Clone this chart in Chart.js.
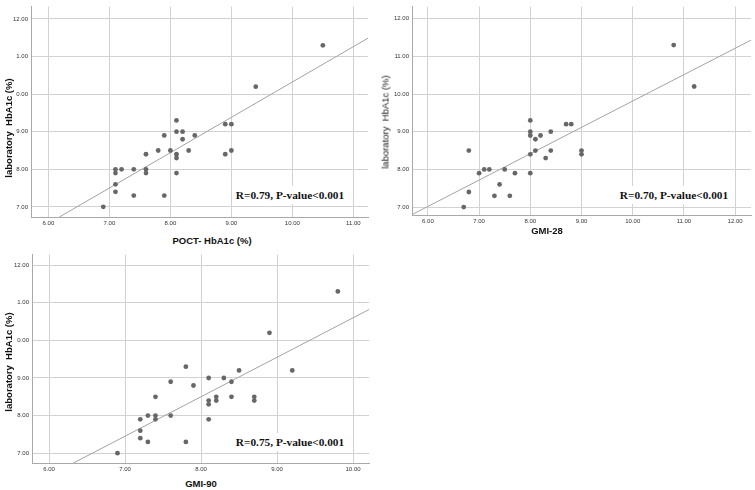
<!DOCTYPE html>
<html>
<head>
<meta charset="utf-8">
<script src="https://cdn.jsdelivr.net/npm/chart.js@4.4.0/dist/chart.umd.min.js"></script>
<style>
  html, body { margin: 0; padding: 0; background: #fff; }
  #wrap { position: relative; width: 755px; height: 490px; overflow: hidden; background: #fff; }
  canvas { position: absolute; }
  .lbl { position: absolute; white-space: nowrap; transform: translate(-50%, -50%); color: #111; font-family: "Liberation Sans", Arial, sans-serif; font-size: 9.5px; }
  .b { font-weight: bold; }
  .rot { transform: translate(-50%, -50%) rotate(-90deg); }
  .stat { font-family: "Liberation Serif", "Times New Roman", serif; font-weight: bold; font-size: 11.3px; background: #fff; padding: 3px 3px; color: #111; }
</style>
</head>
<body>
<div id="wrap">
  <canvas id="c1" width="372" height="229" style="left:0px;top:0px"></canvas>
  <canvas id="c2" width="375" height="227" style="left:380px;top:0px"></canvas>
  <canvas id="c3" width="373" height="227" style="left:0px;top:248px"></canvas>

  <div class="lbl b" style="left:212px;top:240px">POCT- HbA1c (%)</div>
  <div class="lbl b rot" style="left:8px;top:128px">laboratory&nbsp; HbA1c (%)</div>
  <div class="lbl stat" style="left:290px;top:195px">R=0.79, P-value&lt;0.001</div>

  <div class="lbl b" style="left:547px;top:230px">GMI-28</div>
  <div class="lbl rot" style="left:385px;top:122px">laboratory&nbsp; HbA1c (%)</div>
  <div class="lbl stat" style="left:674px;top:195px">R=0.70, P-value&lt;0.001</div>

  <div class="lbl b" style="left:201px;top:483px">GMI-90</div>
  <div class="lbl b rot" style="left:8px;top:362px">laboratory&nbsp; HbA1c (%)</div>
  <div class="lbl stat" style="left:290px;top:442px">R=0.75, P-value&lt;0.001</div>
</div>
<script>
// tick values and labels (as printed in the figure)
const yTicks = [7, 8, 9, 10, 11, 12];
const yLabelsCut = ['7.00', '8.00', '9.00', '0.00', '1.00', '12.00'];
const yLabelsFull = ['7.00', '8.00', '9.00', '10.00', '11.00', '12.00'];
const xTicks1 = [6, 7, 8, 9, 10, 11];
const xLabels1 = ['6.00', '7.00', '8.00', '9.00', '10.00', '11.00'];
const xTicks2 = [6, 7, 8, 9, 10, 11, 12];
const xLabels2 = ['6.00', '7.00', '8.00', '9.00', '10.00', '11.00', '12.00'];
const xTicks3 = [6, 7, 8, 9, 10];
const xLabels3 = ['6.00', '7.00', '8.00', '9.00', '10.00'];

// POCT-HbA1c vs laboratory HbA1c
const poctX = [10.5, 9.4, 8.1, 8.9, 9.0, 8.1, 8.2, 7.9, 8.4, 8.2, 7.8, 8.0, 8.3, 9.0, 7.6, 8.1, 8.9, 8.1, 7.1, 7.2, 7.4, 7.6, 7.1, 7.6, 8.1, 7.1, 7.1, 7.4, 7.9, 6.9];
const poctY = [11.3, 10.2, 9.3, 9.2, 9.2, 9.0, 9.0, 8.9, 8.9, 8.8, 8.5, 8.5, 8.5, 8.5, 8.4, 8.4, 8.4, 8.3, 8.0, 8.0, 8.0, 8.0, 7.9, 7.9, 7.9, 7.6, 7.4, 7.3, 7.3, 7.0];
const poctFitX = [6.18, 11.24];
const poctFitY = [6.73, 11.49];

// GMI-28 vs laboratory HbA1c
const gmi28X = [10.8, 11.2, 8.0, 8.7, 8.8, 8.0, 8.4, 8.0, 8.2, 8.1, 6.8, 8.1, 8.4, 9.0, 8.0, 9.0, 8.3, 7.1, 7.2, 7.5, 7.0, 7.7, 8.0, 7.4, 6.8, 7.3, 7.6, 6.7];
const gmi28Y = [11.3, 10.2, 9.3, 9.2, 9.2, 9.0, 9.0, 8.9, 8.9, 8.8, 8.5, 8.5, 8.5, 8.5, 8.4, 8.4, 8.3, 8.0, 8.0, 8.0, 7.9, 7.9, 7.9, 7.6, 7.4, 7.3, 7.3, 7.0];
const gmi28FitX = [5.69, 12.31];
const gmi28FitY = [6.80, 11.43];

// GMI-90 vs laboratory HbA1c
const gmi90X = [9.8, 8.9, 7.8, 8.5, 9.2, 8.1, 8.3, 7.6, 8.4, 7.9, 7.4, 8.2, 8.4, 8.7, 8.1, 8.2, 8.7, 8.1, 7.3, 7.4, 7.6, 7.2, 7.4, 8.1, 7.2, 7.2, 7.3, 7.8, 6.9];
const gmi90Y = [11.3, 10.2, 9.3, 9.2, 9.2, 9.0, 9.0, 8.9, 8.9, 8.8, 8.5, 8.5, 8.5, 8.5, 8.4, 8.4, 8.4, 8.3, 8.0, 8.0, 8.0, 7.9, 7.9, 7.9, 7.6, 7.4, 7.3, 7.3, 7.0];
const gmi90FitX = [6.32, 10.21];
const gmi90FitY = [6.74, 10.82];

function toPoints(xs, ys) {
  return xs.map((x, i) => ({ x: x, y: ys[i] }));
}

function makePanel(id, cfg) {
  const ctx = document.getElementById(id).getContext('2d');
  const tickFont = { family: '"Liberation Sans", Arial, sans-serif', size: 6 };
  return new Chart(ctx, {
    type: 'scatter',
    data: {
      datasets: [
        {
          data: toPoints(cfg.xs, cfg.ys),
          backgroundColor: '#676767',
          borderWidth: 0,
          pointRadius: 2.4
        },
        {
          type: 'line',
          data: toPoints(cfg.fitX, cfg.fitY),
          borderColor: '#a3a3a3',
          borderWidth: 1,
          pointRadius: 0,
          fill: false
        }
      ]
    },
    options: {
      responsive: false,
      animation: false,
      layout: { padding: 0 },
      plugins: { legend: { display: false }, tooltip: { enabled: false } },
      scales: {
        x: {
          type: 'linear',
          min: cfg.xMin,
          max: cfg.xMax,
          afterFit: s => { s.height = 12; },
          afterBuildTicks: s => { s.ticks = cfg.xTicks.map(v => ({ value: v })); },
          grid: { color: '#d2d2d2', lineWidth: 1, drawTicks: false },
          border: { display: true, color: '#a9a9a9' },
          ticks: {
            padding: 3,
            color: '#333',
            font: tickFont,
            maxRotation: 0,
            autoSkip: false,
            callback: (v) => cfg.xLabels[cfg.xTicks.indexOf(v)]
          }
        },
        y: {
          type: 'linear',
          min: cfg.yMin,
          max: cfg.yMax,
          afterFit: s => { s.width = cfg.yWidth; },
          afterBuildTicks: s => { s.ticks = yTicks.map(v => ({ value: v })); },
          grid: { color: '#d2d2d2', lineWidth: 1, drawTicks: false },
          border: { display: true, color: '#a9a9a9' },
          ticks: {
            padding: 3,
            color: '#333',
            font: tickFont,
            autoSkip: false,
            callback: (v) => cfg.yLabels[yTicks.indexOf(v)]
          }
        }
      }
    }
  });
}

makePanel('c1', {
  xs: poctX, ys: poctY, fitX: poctFitX, fitY: poctFitY,
  xMin: 5.715, xMax: 11.24, yMin: 6.73, yMax: 12.33,
  xTicks: xTicks1, xLabels: xLabels1, yLabels: yLabelsCut, yWidth: 31
});

makePanel('c2', {
  xs: gmi28X, ys: gmi28Y, fitX: gmi28FitX, fitY: gmi28FitY,
  xMin: 5.69, xMax: 12.31, yMin: 6.79, yMax: 12.32,
  xTicks: xTicks2, xLabels: xLabels2, yLabels: yLabelsFull, yWidth: 32
});

makePanel('c3', {
  xs: gmi90X, ys: gmi90Y, fitX: gmi90FitX, fitY: gmi90FitY,
  xMin: 5.775, xMax: 10.21, yMin: 6.74, yMax: 12.28,
  xTicks: xTicks3, xLabels: xLabels3, yLabels: yLabelsCut, yWidth: 32
});
</script>
</body>
</html>
